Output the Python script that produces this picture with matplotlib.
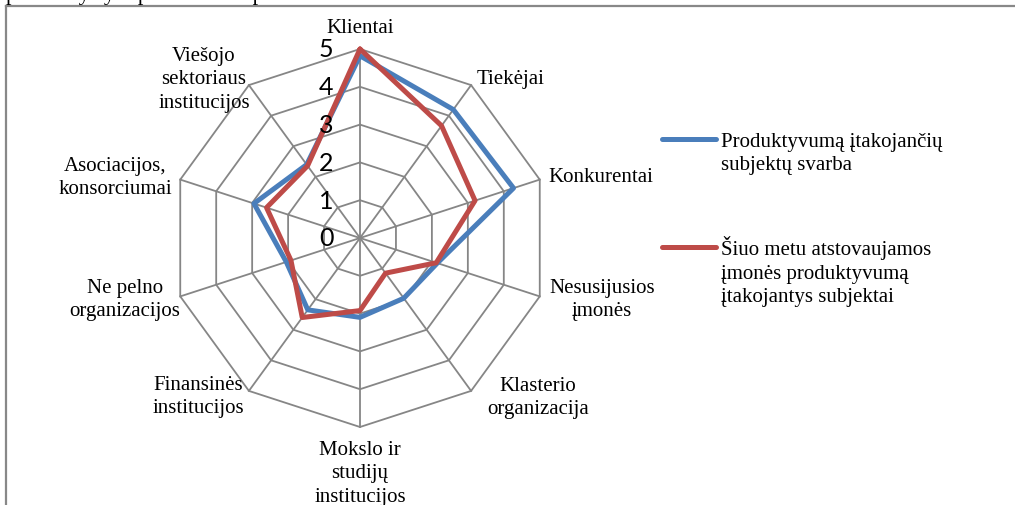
import numpy as np
import matplotlib.pyplot as plt

categories = ["Klientai", "Tiekėjai", "Konkurentai", "Nesusijusios\nįmonės",
              "Klasterio\norganizacija", "Mokslo ir\nstudijų\ninstitucijos",
              "Finansinės\ninstitucijos", "Ne pelno\norganizacijos",
              "Asociacijos,\nkonsorciumai", "Viešojo\nsektoriaus\ninstitucijos"]
svarba = [4.82, 4.2, 4.27, 2.15, 1.97, 2.1, 2.35, 2.05, 2.95, 2.4]
dabar = [5.0, 3.67, 3.2, 2.12, 1.15, 1.92, 2.6, 1.92, 2.6, 2.36]
levels = [0, 1, 2, 3, 4, 5]
series_names = ["Produktyvumą įtakojančių\nsubjektų svarba",
                "Šiuo metu atstovaujamos\nįmonės produktyvumą\nįtakojantys subjektai"]

W, H = 1015, 506
cx, cy, unit = 360, 239, 37.8

fig = plt.figure(figsize=(W / 100, H / 100), dpi=100)
ax = fig.add_axes([0, 0, 1, 1])
ax.set_xlim(-cx / unit, (W - cx) / unit)
ax.set_ylim(-(H - cy) / unit, cy / unit)
ax.axis("off")

n = len(categories)
ang = np.pi / 2 - np.arange(n) * 2 * np.pi / n
ang_c = np.append(ang, ang[0])
grid = "#868686"

# decagon rings and spokes
for lv in levels[1:]:
    ax.plot(lv * np.cos(ang_c), lv * np.sin(ang_c), color=grid, lw=1.3, zorder=1)
rmax = levels[-1]
for a in ang:
    ax.plot([0, rmax * np.cos(a)], [0, rmax * np.sin(a)], color=grid, lw=1.3, zorder=1)

# series
colors = ["#4a7ebb", "#be4b48"]
for vals, col in zip([svarba, dabar], colors):
    v = np.append(vals, vals[0])
    ax.plot(v * np.cos(ang_c), v * np.sin(ang_c), color=col, lw=3.6,
            solid_joinstyle="round", solid_capstyle="round", zorder=3)

# value labels
for lv in levels:
    ax.text(-0.7, lv, str(lv), ha="right", va="center", fontsize=18,
            family="Lato", color="black", zorder=4)

# category labels (pixel centres)
label_px = [(360, 29), (511, 80), (601, 178), (602, 300), (538, 398),
            (360, 474), (198, 397), (125, 300), (115, 178), (204, 80)]
for lab, (px, py) in zip(categories, label_px):
    ax.text((px - cx) / unit, (cy - py) / unit, lab, ha="center", va="center",
            fontsize=15, family="Liberation Serif", linespacing=1.32)

# legend, handle aligned with the first text line
legend_y = [140, 248]
for name, col, ly in zip(series_names, colors, legend_y):
    ax.plot([662 / W, 716 / W], [1 - ly / H, 1 - ly / H], transform=ax.transAxes,
            color=col, lw=3.6, solid_capstyle="round")
    base = ly + 6 + 24 * name.count("\n")   # baseline of the last line
    ax.text(721 / W, 1 - base / H, name, transform=ax.transAxes, ha="left",
            va="baseline", fontsize=15, family="Liberation Serif", linespacing=1.32)

# frame of the embedded chart
ax.plot([6 / W, 1], [1 - 7 / H, 1 - 7 / H], transform=ax.transAxes, color="#888888", lw=1.6)
ax.plot([6 / W, 6 / W], [0, 1 - 7 / H], transform=ax.transAxes, color="#888888", lw=1.6)

fig.text(6 / W, 1.0, "pastebėtys yra pateikta 3. 3 paveiksle.", ha="left", va="baseline",
         fontsize=16, family="Liberation Serif")

fig.savefig("out.png", dpi=100)
